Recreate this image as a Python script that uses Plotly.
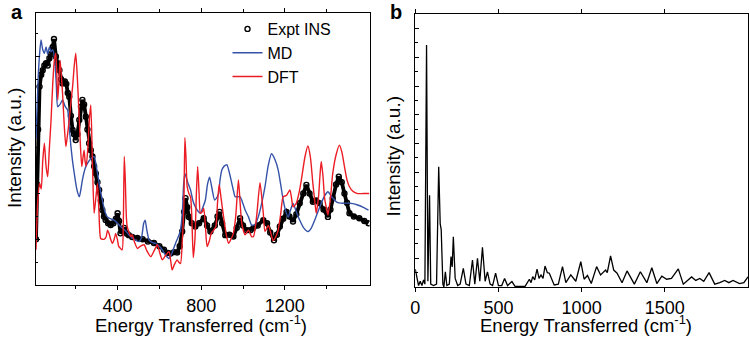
import plotly.graph_objects as go

# ---------------- data ----------------
expt_x = [10, 15, 20, 27, 35, 42, 50, 58, 66, 74, 82, 90, 96, 105, 113, 122, 130, 137, 148, 155,
          162, 169, 177, 185, 192, 200, 208, 217, 225, 232, 240, 248, 256, 264, 272, 280, 288, 296,
          304, 312, 320, 327, 335, 343, 355, 367, 380, 392, 400, 407, 414, 425, 432, 445, 454, 470,
          495, 520, 545, 574, 600, 622, 640, 654, 670, 685, 697, 709, 718, 725, 733, 741, 755, 772,
          790, 812, 828, 844, 865, 878, 888, 900, 915, 935, 954, 970, 986, 1000, 1018, 1035, 1049,
          1070, 1097, 1115, 1130, 1148, 1162, 1176, 1192, 1208, 1222, 1239, 1255, 1271, 1288, 1303,
          1318, 1334, 1350, 1366, 1385, 1406, 1418, 1429, 1445, 1458, 1472, 1485, 1497, 1509, 1530,
          1556, 1580, 1600]
expt_y = [1.0, 2.2, 3.4, 4.34, 4.6, 4.7, 4.8, 4.85, 4.8, 4.96, 5.05, 5.21, 5.38, 5.0, 4.85, 4.7, 4.5,
          4.41, 4.45, 4.4, 4.2, 4.12, 3.7, 3.39, 3.3, 3.17, 3.3, 3.61, 3.9, 4.05, 3.95, 3.68, 3.4, 3.1,
          2.95, 2.81, 2.6, 2.44, 2.25, 2.08, 1.85, 1.64, 1.5, 1.42, 1.35, 1.31, 1.35, 1.45, 1.57, 1.4,
          1.13, 1.2, 1.25, 1.12, 1.09, 1.05, 1.03, 1.0, 0.95, 0.92, 0.85, 0.77, 0.7, 0.69, 0.72, 0.71,
          0.85, 1.17, 1.6, 1.9, 1.7, 1.49, 1.35, 1.28, 1.35, 1.46, 1.3, 1.17, 1.3, 1.5, 1.6, 1.35, 1.09,
          1.1, 1.06, 1.25, 1.46, 1.3, 1.2, 1.2, 1.24, 1.3, 1.42, 1.35, 1.15, 0.98, 1.1, 1.28, 1.45, 1.6,
          1.5, 1.39, 1.55, 1.79, 2.0, 2.19, 2.0, 1.82, 1.85, 1.79, 1.65, 1.49, 1.65, 1.9, 2.2, 2.37,
          2.25, 2.0, 1.8, 1.57, 1.5, 1.46, 1.4, 1.35]

md_x = [10, 20, 28, 34, 42, 50, 58, 66, 74, 82, 90, 100, 107, 114, 125, 137, 150, 161, 170, 177, 185,
        193, 205, 217, 225, 232, 245, 256, 270, 288, 300, 312, 327, 340, 351, 365, 383, 400, 414, 435,
        456, 480, 503, 515, 525, 532, 540, 551, 565, 582, 600, 614, 630, 646, 660, 677, 690, 701, 710,
        716, 722, 735, 749, 760, 772, 784, 796, 808, 820, 830, 840, 852, 864, 873, 883, 890, 899, 910,
        923, 935, 946, 955, 962, 975, 986, 998, 1010, 1026, 1041, 1057, 1073, 1090, 1105, 1120, 1136,
        1152, 1168, 1180, 1192, 1205, 1216, 1228, 1239, 1255, 1271, 1290, 1311, 1327, 1343, 1358,
        1374, 1390, 1406, 1421, 1437, 1453, 1469, 1501, 1525, 1548, 1575, 1600]
md_y = [3.2, 4.5, 5.1, 5.36, 5.15, 5.07, 5.21, 5.05, 5.2, 5.1, 5.15, 4.9, 4.4, 3.9, 3.95, 4.05, 3.9,
        3.83, 3.4, 3.03, 2.7, 2.44, 2.1, 1.93, 2.1, 2.3, 2.55, 2.66, 2.75, 2.81, 2.55, 2.22, 1.86, 1.6,
        1.49, 1.45, 1.42, 1.35, 1.28, 1.2, 1.09, 1.0, 0.95, 1.05, 1.35, 1.42, 1.2, 0.98, 0.93, 0.91,
        0.85, 0.77, 0.65, 0.58, 0.7, 0.91, 1.05, 1.2, 1.6, 2.2, 2.44, 2.25, 2.08, 1.85, 1.71, 1.62,
        1.57, 1.7, 1.86, 2.2, 2.36, 2.1, 1.86, 1.9, 2.0, 2.3, 2.52, 2.6, 2.63, 2.45, 2.23, 2.05, 1.93,
        1.93, 1.93, 1.8, 1.64, 1.49, 1.31, 1.32, 1.49, 1.8, 2.15, 2.6, 2.87, 2.75, 2.52, 2.2, 1.86,
        1.6, 1.49, 1.65, 1.79, 1.6, 1.42, 1.25, 1.17, 1.25, 1.42, 1.6, 1.79, 1.95, 2.04, 1.95, 1.86,
        1.8, 1.79, 1.79, 1.78, 1.75, 1.7, 1.64]

dft_x = [10, 18, 27, 35, 42, 50, 58, 66, 74, 82, 90, 98, 105, 114, 120, 125, 131, 137, 145, 153, 161,
         169, 177, 185, 193, 200, 208, 217, 223, 229, 235, 240, 245, 250, 258, 265, 272, 280, 288,
         296, 304, 311, 319, 327, 335, 345, 352, 359, 367, 375, 384, 391, 399, 406, 414, 422, 428,
         432, 437, 442, 446, 455, 464, 470, 480, 495, 510, 527, 540, 559, 575, 590, 602, 614, 630,
         646, 655, 661, 672, 685, 693, 701, 710, 717, 722, 727, 733, 741, 749, 755, 762, 770, 777,
         783, 790, 796, 805, 812, 820, 828, 838, 848, 860, 870, 878, 886, 895, 907, 920, 931, 942,
         954, 965, 978, 986, 994, 1010, 1026, 1041, 1050, 1065, 1081, 1090, 1097, 1105, 1121, 1132,
         1144, 1156, 1168, 1180, 1192, 1208, 1224, 1232, 1239, 1255, 1267, 1279, 1296, 1310, 1322,
         1334, 1344, 1350, 1361, 1368, 1374, 1382, 1390, 1398, 1406, 1418, 1429, 1445, 1461, 1473,
         1485, 1497, 1509, 1525, 1548, 1575, 1604]
dft_y = [0.77, 1.8, 2.22, 2.1, 2.7, 3.1, 2.6, 2.37, 3.0, 3.61, 4.4, 4.92, 5.07, 4.05, 4.5, 4.92, 4.6,
         4.19, 3.5, 3.03, 3.3, 3.61, 4.0, 4.34, 4.8, 5.07, 4.5, 3.61, 3.0, 2.59, 2.8, 2.95, 2.7, 2.6,
         3.0, 3.6, 3.94, 2.66, 1.57, 1.9, 2.22, 1.6, 1.02, 1.0, 1.0, 1.05, 1.2, 1.13, 1.0, 0.91, 1.0,
         1.13, 1.0, 0.84, 0.8, 0.77, 1.5, 2.81, 2.3, 1.5, 1.28, 1.15, 1.06, 1.1, 0.95, 0.8, 0.85, 0.88,
         0.75, 0.62, 0.75, 0.88, 0.7, 0.55, 0.65, 0.73, 0.5, 0.33, 0.45, 0.55, 0.5, 0.47, 1.0, 1.71,
         3.22, 2.8, 2.15, 2.0, 1.93, 1.5, 0.6, 1.0, 2.0, 2.59, 2.0, 1.57, 1.6, 1.68, 1.3, 0.84, 0.95,
         1.13, 1.2, 1.28, 1.8, 2.2, 1.9, 1.49, 1.1, 0.91, 1.0, 1.13, 1.5, 2.3, 1.8, 1.35, 1.1, 1.2,
         1.06, 1.06, 1.5, 2.24, 1.9, 1.57, 1.17, 1.3, 1.15, 0.97, 1.05, 1.2, 1.55, 1.93, 1.96, 2.08,
         1.9, 1.71, 1.79, 2.0, 2.3, 2.8, 3.04, 2.8, 2.22, 1.8, 1.57, 1.93, 2.4, 2.7, 2.4, 1.9, 1.7,
         1.53, 1.9, 2.44, 2.85, 3.06, 2.9, 2.59, 2.3, 2.15, 2.05, 2.0, 2.0, 2.0]

calc_x = [0, 10, 20, 30, 40, 50, 58, 68, 76, 86, 93, 110, 128, 141, 150, 156, 166, 172, 181, 190, 205,
          215, 222, 229, 240, 255, 270, 289, 305, 325, 344, 358, 374, 388, 404, 420, 434, 450, 465, 483,
          500, 520, 537, 555, 581, 600, 620, 660, 686, 696, 706, 718, 732, 744, 756, 768, 780, 794, 806,
          835, 860, 885, 905, 935, 965, 995, 1015, 1035, 1058, 1090, 1114, 1144, 1154, 1174, 1193, 1213,
          1243, 1273, 1317, 1353, 1392, 1422, 1452, 1482, 1511, 1540, 1581, 1611, 1661, 1686, 1710,
          1734, 1766, 1800, 1830, 1860, 1885, 1910, 1949, 1975, 2000]
calc_y = [0.62, 0.3, 0.05, 0.2, 0.05, 0.25, 0.1, 8.43, 0.2, 3.2, 0.1, 0.05, 0.1, 4.19, 2.2, 2.0, 0.1,
          0.0, 0.53, 0.05, 0.1, 1.06, 0.7, 1.75, 0.3, 0.05, 0.1, 0.65, 0.1, 0.05, 0.94, 0.1, 1.0, 0.2,
          1.38, 0.2, 0.53, 0.1, 0.05, 0.48, 0.05, 0.05, 0.3, 0.05, 0.19, 0.02, 0.02, 0.02, 0.27, 0.15,
          0.36, 0.25, 0.62, 0.3, 0.42, 0.3, 0.73, 0.5, 0.48, 0.07, 0.1, 0.71, 0.15, 0.42, 0.2, 0.88,
          0.27, 0.4, 0.12, 0.71, 0.42, 0.59, 0.5, 1.08, 0.59, 0.48, 0.15, 0.56, 0.1, 0.53, 0.15, 0.67,
          0.12, 0.38, 0.27, 0.3, 0.63, 0.1, 0.35, 0.23, 0.3, 0.2, 0.5, 0.1, 0.15, 0.23, 0.15, 0.23,
          0.12, 0.15, 0.35]

a_xticks = [400, 800, 1200]
a_xminor = [200, 600, 1000, 1400]
b_xticks = [0, 500, 1000, 1500]

FONT = "Liberation Sans, Arial, sans-serif"
BLUE = "#3452a8"
RED = "#ec1c24"

fig = go.Figure()
fig.add_trace(go.Scatter(x=expt_x, y=expt_y, mode="lines", line=dict(color="black", width=3.8),
                         showlegend=False, xaxis="x", yaxis="y", hoverinfo="skip"))
fig.add_trace(go.Scatter(x=expt_x, y=expt_y, mode="markers", name="Expt INS",
                         marker=dict(symbol="circle-open", color="black", size=5, line=dict(width=1.4)),
                         xaxis="x", yaxis="y"))
fig.add_trace(go.Scatter(x=md_x, y=md_y, mode="lines", name="MD",
                         line=dict(color=BLUE, width=1.4, shape="spline", smoothing=0.6),
                         xaxis="x", yaxis="y"))
fig.add_trace(go.Scatter(x=dft_x, y=dft_y, mode="lines", name="DFT",
                         line=dict(color=RED, width=1.4, shape="spline", smoothing=0.6),
                         xaxis="x", yaxis="y"))
fig.add_trace(go.Scatter(x=calc_x, y=calc_y, mode="lines", showlegend=False,
                         line=dict(color="black", width=1.3), xaxis="x2", yaxis="y2"))

W, H = 749, 337
axis_common = dict(showline=True, linecolor="black", linewidth=1.3, mirror=True,
                   showgrid=False, zeroline=False, tickcolor="black",
                   tickfont=dict(family=FONT, size=18, color="black"))

fig.update_layout(
    width=W, height=H, margin=dict(l=0, r=0, t=0, b=0),
    paper_bgcolor="white", plot_bgcolor="white",
    font=dict(family=FONT, color="black"),
    xaxis=dict(domain=[31 / W, 367 / W], range=[9, 1605], anchor="y",
               tickmode="array", tickvals=a_xticks, ticks="outside", ticklen=4, tickwidth=1.2,
               minor=dict(tickmode="array", tickvals=a_xminor, ticks="outside", ticklen=3,
                          tickcolor="black", tickwidth=1.2),
               **{**axis_common, "mirror": "allticks"}),
    yaxis=dict(domain=[1 - 285 / H, 1 - 13 / H], range=[0, 5.95], anchor="x",
               dtick=1, tick0=0, ticks="inside", ticklen=4, tickwidth=1.2, showticklabels=False,
               minor=dict(dtick=0.5, tick0=0, ticks="inside", ticklen=2.5, tickcolor="black",
                          tickwidth=1.2),
               **axis_common),
    xaxis2=dict(domain=[413 / W, 748 / W], range=[0, 2000], anchor="y2",
                tickmode="array", tickvals=b_xticks, ticks="outside", ticklen=4, tickwidth=1.2,
                **{**axis_common, "mirror": "allticks"}),
    yaxis2=dict(domain=[1 - 287 / H, 1 - 14 / H], range=[0, 9.51], anchor="x2",
                dtick=1, tick0=0, ticks="inside", ticklen=4, tickwidth=1.2, showticklabels=False,
                minor=dict(dtick=0.5, tick0=0, ticks="inside", ticklen=2.5, tickcolor="black",
                           tickwidth=1.2),
                **axis_common),
    legend=dict(x=224 / W, y=1 - 12 / H, xanchor="left", yanchor="top",
                font=dict(family=FONT, size=16, color="black"),
                bgcolor="rgba(0,0,0,0)", itemsizing="trace", tracegroupgap=0),
)

ann = []
ann.append(dict(text="<b>a</b>", x=12 / W, y=1 - 12 / H, xref="paper", yref="paper",
                showarrow=False, font=dict(family=FONT, size=20), xanchor="center", yanchor="middle"))
ann.append(dict(text="<b>b</b>", x=394 / W, y=1 - 12 / H, xref="paper", yref="paper",
                showarrow=False, font=dict(family=FONT, size=20), xanchor="center", yanchor="middle"))
for cx, cy in [(197, 324), (585, 324)]:
    ann.append(dict(text="Energy Transferred (cm<sup>-1</sup>)", x=cx / W, y=1 - cy / H,
                    xref="paper", yref="paper", showarrow=False,
                    font=dict(family=FONT, size=18.5), xanchor="center", yanchor="middle"))
for cx, cy in [(9, 148), (391, 156)]:
    ann.append(dict(text="Intensity (a.u.)", x=cx / W, y=1 - cy / H, textangle=-90,
                    xref="paper", yref="paper", showarrow=False,
                    font=dict(family=FONT, size=19), xanchor="center", yanchor="middle"))
fig.update_layout(annotations=ann)

fig.write_html("out.html", config={"displayModeBar": False},
               post_script="document.body.style.margin='0px';")
